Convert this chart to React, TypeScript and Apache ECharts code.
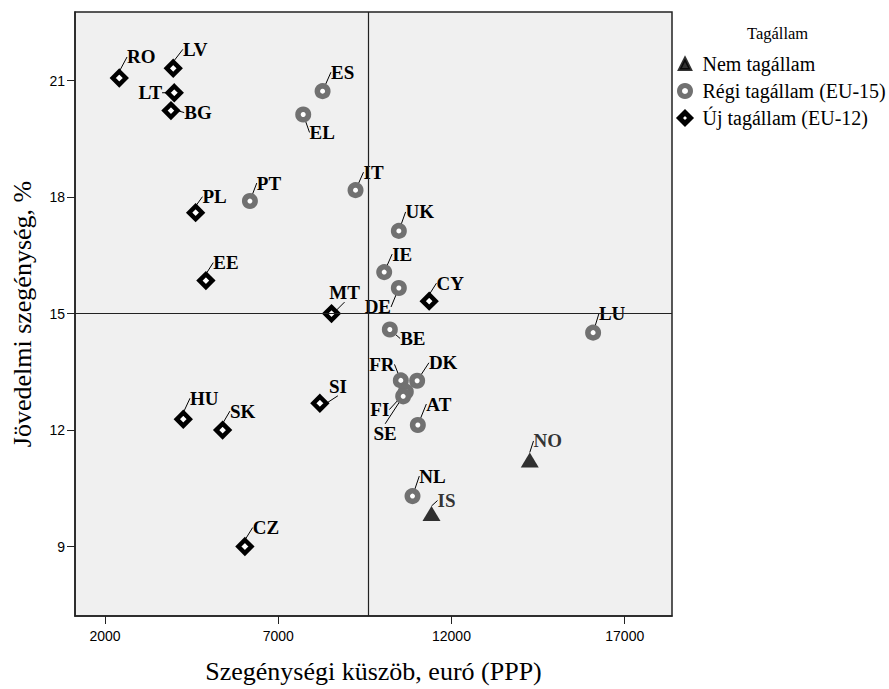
import React, { useEffect, useRef } from "react";
import * as echarts from "echarts";

// Data
const nonMemberNames = ["NO", "IS"];
const nonMemberX = [14259, 11423];
const nonMemberY = [11.23, 9.85];

const oldMemberNames = ["ES", "EL", "PT", "IT", "UK", "IE", "DE", "BE", "LU", "FR", "DK", "FI", "SE", "AT", "NL"];
const oldMemberX = [8280, 7721, 6183, 9231, 10481, 10058, 10481, 10221, 16087, 10538, 11009, 10682, 10606, 11029, 10875];
const oldMemberY = [20.73, 20.13, 17.9, 18.18, 17.13, 16.07, 15.66, 14.59, 14.51, 13.28, 13.27, 12.99, 12.87, 12.13, 10.3];

const newMemberNames = ["RO", "LV", "LT", "BG", "PL", "EE", "MT", "CY", "SI", "HU", "SK", "CZ"];
const newMemberX = [2413, 3970, 4000, 3904, 4616, 4913, 8538, 11356, 8202, 4260, 5395, 6038];
const newMemberY = [21.07, 21.32, 20.69, 20.23, 17.6, 15.85, 15.0, 15.32, 12.69, 12.28, 12.0, 9.0];

const seriesNames = ["Nem tagállam", "Régi tagállam (EU-15)", "Új tagállam (EU-12)"];
const legendTitle = "Tagállam";
const xTitle = "Szegénységi küszöb, euró (PPP)";
const yTitle = "Jövedelmi szegénység, %";

const xTicks = [2000, 7000, 12000, 17000];
const yTicks = [9, 12, 15, 18, 21];
const refLineX = 9595;
const refLineY = 15;

// Label placement (pixel offsets from the marker centre)
const labelOffsets: Record<string, [number, number]> = {
  NO: [18, -19], IS: [15, -13],
  ES: [20, -19], EL: [19, 18], PT: [19, -18], IT: [18, -18], UK: [21, -19],
  IE: [18, -18], DE: [-21, 19], BE: [23, 9], LU: [19, -19], FR: [-19, -16],
  DK: [26, -18], FI: [-26, 18], SE: [-18, 37], AT: [21, -21], NL: [20, -20],
  RO: [22, -21], LV: [22, -19], LT: [-24, 0], BG: [27, 2], PL: [19, -16],
  EE: [20, -18], MT: [13, -21], CY: [21, -18], SI: [18, -17], HU: [21, -21],
  SK: [20, -19], CZ: [21, -19],
};

const SERIF = "Liberation Serif";
const SANS = "Liberation Sans";

function build(names: string[], xs: number[], ys: number[]) {
  return names.map((n, i) => ({ name: n, value: [xs[i], ys[i]] }));
}

function labelCfg() {
  return {
    show: true,
    position: "inside",
    formatter: "{b}",
    fontFamily: SERIF,
    fontWeight: "bold",
    fontSize: 19,
    color: "#000",
  };
}

function layoutFor(names: string[]) {
  return (p: any) => {
    const o = labelOffsets[names[p.dataIndex]] || [18, -18];
    return { dx: o[0], dy: o[1] };
  };
}

const labelLine = { show: true, lineStyle: { color: "#000", width: 1 } };

export default function App() {
  const ref = useRef<HTMLDivElement>(null);
  useEffect(() => {
    if (!ref.current) return;
    const chart = echarts.init(ref.current, null, { renderer: "svg" });
    chart.setOption({
      animation: false,
      backgroundColor: "#fff",
      textStyle: { fontFamily: SERIF },
      title: {
        text: legendTitle,
        left: 742,
        top: 20,
        textStyle: { fontFamily: SERIF, fontSize: 16.5, fontWeight: "normal", color: "#000" },
      },
      legend: {
        data: [
          { name: seriesNames[0], icon: "triangle", itemStyle: { color: "#000", borderColor: "#000", borderWidth: 3 } },
          { name: seriesNames[1], icon: "circle", itemStyle: { color: "#fff", borderColor: "#717171", borderWidth: 5 } },
          { name: seriesNames[2], icon: "diamond", itemStyle: { color: "#fff", borderColor: "#000", borderWidth: 5 } },
        ],
        orient: "vertical",
        left: 672,
        top: 49,
        itemWidth: 11,
        itemHeight: 11,
        itemGap: 7,
        textStyle: { fontFamily: SERIF, fontSize: 20, color: "#000", lineHeight: 20, padding: [0, 0, 0, 7] },
      },
      grid: {
        left: 75,
        top: 12,
        width: 597,
        height: 610,
        show: true,
        backgroundColor: "#f0f0f0",
        borderColor: "#222",
        borderWidth: 1.5,
      },
      xAxis: {
        type: "value",
        min: 1135,
        max: 18364,
        name: xTitle,
        nameLocation: "middle",
        nameGap: 42,
        nameTextStyle: { fontFamily: SERIF, fontSize: 26, color: "#000" },
        splitLine: { show: false },
        axisLine: { show: true, onZero: false, lineStyle: { color: "#222", width: 1.5 } },
        axisTick: { show: true, customValues: xTicks, length: 8, lineStyle: { color: "#222" } },
        axisLabel: {
          customValues: xTicks,
          formatter: (v: number) => String(v),
          fontFamily: SANS,
          fontSize: 14,
          color: "#000",
          margin: 13,
        },
      },
      yAxis: {
        type: "value",
        min: 7.21,
        max: 22.77,
        name: yTitle,
        nameLocation: "middle",
        nameGap: 40,
        nameTextStyle: { fontFamily: SERIF, fontSize: 26, color: "#000" },
        splitLine: { show: false },
        axisLine: { show: true, onZero: false, lineStyle: { color: "#222", width: 1.5 } },
        axisTick: { show: true, customValues: yTicks, length: 8, lineStyle: { color: "#222" } },
        axisLabel: {
          customValues: yTicks,
          formatter: (v: number) => String(v),
          fontFamily: SANS,
          fontSize: 14,
          color: "#000",
          margin: 10,
        },
      },
      series: [
        {
          name: "ref",
          type: "scatter",
          data: [],
          z: 1,
          markLine: {
            silent: true,
            symbol: "none",
            label: { show: false },
            lineStyle: { color: "#222", type: "solid", width: 1.2 },
            data: [{ xAxis: refLineX }, { yAxis: refLineY }],
          },
        },
        {
          name: seriesNames[0],
          type: "scatter",
          z: 3,
          symbol: "triangle",
          symbolSize: [18, 15],
          itemStyle: { color: "#000" },
          data: build(nonMemberNames, nonMemberX, nonMemberY),
          label: labelCfg(),
          labelLine,
          labelLayout: layoutFor(nonMemberNames),
        },
        {
          name: seriesNames[1],
          type: "scatter",
          z: 3,
          symbol: "circle",
          symbolSize: 10.5,
          itemStyle: { color: "#fff", borderColor: "#717171", borderWidth: 5.5, opacity: 1 },
          data: build(oldMemberNames, oldMemberX, oldMemberY),
          label: labelCfg(),
          labelLine,
          labelLayout: layoutFor(oldMemberNames),
        },
        {
          name: seriesNames[2],
          type: "scatter",
          z: 3,
          symbol: "diamond",
          symbolSize: 13,
          itemStyle: { color: "#fff", borderColor: "#000", borderWidth: 4.5, opacity: 1 },
          data: build(newMemberNames, newMemberX, newMemberY),
          label: labelCfg(),
          labelLine,
          labelLayout: layoutFor(newMemberNames),
        },
      ],
    });
    return () => chart.dispose();
  }, []);
  return <div ref={ref} style={{ width: 889, height: 689, position: "absolute", left: 0, top: 0 }} />;
}
